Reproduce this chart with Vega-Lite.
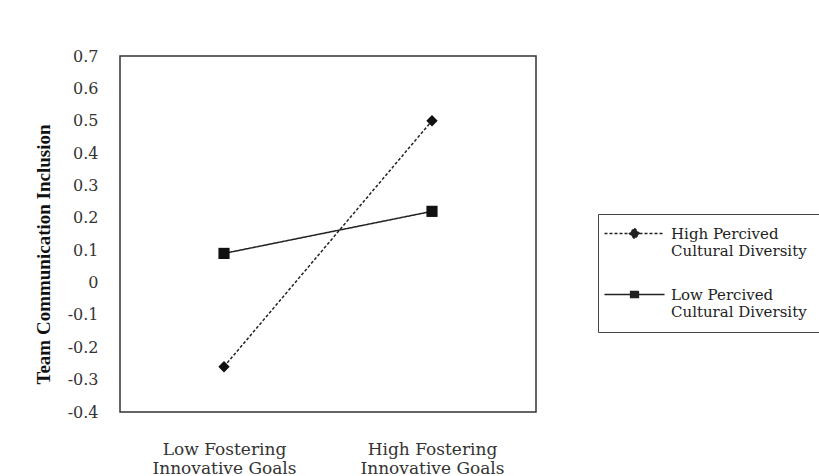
{
  "$schema": "https://vega.github.io/schema/vega-lite/v6.json",
  "autosize": {"type": "none"},
  "padding": {"left": 120, "top": 56, "right": 283, "bottom": 64},
  "width": 416,
  "height": 356,
  "background": "white",
  "config": {"view": {"stroke": "#333", "strokeWidth": 1.5}},
  "data": {
    "values": [
      {"fostering": "Low Fostering Innovative Goals", "group": "High Percived Cultural Diversity", "inclusion": -0.26},
      {"fostering": "High Fostering Innovative Goals", "group": "High Percived Cultural Diversity", "inclusion": 0.50},
      {"fostering": "Low Fostering Innovative Goals", "group": "Low Percived Cultural Diversity", "inclusion": 0.09},
      {"fostering": "High Fostering Innovative Goals", "group": "Low Percived Cultural Diversity", "inclusion": 0.22}
    ]
  },
  "encoding": {
    "x": {
      "field": "fostering",
      "type": "ordinal",
      "sort": ["Low Fostering Innovative Goals", "High Fostering Innovative Goals"],
      "scale": {"type": "point", "padding": 0.5},
      "axis": {
        "title": null,
        "ticks": false,
        "domain": false,
        "grid": false,
        "labelAngle": 0,
        "labelPadding": 29,
        "labelFont": "DejaVu Serif",
        "labelFontSize": 17,
        "labelLineHeight": 19,
        "labelColor": "#333",
        "labelExpr": "[replace(datum.label, ' Innovative Goals', ''), 'Innovative Goals']"
      }
    },
    "y": {
      "field": "inclusion",
      "type": "quantitative",
      "scale": {"domain": [-0.4, 0.7], "nice": false, "zero": false},
      "axis": {
        "values": [-0.4, -0.3, -0.2, -0.1, 0, 0.1, 0.2, 0.3, 0.4, 0.5, 0.6, 0.7],
        "labelExpr": "datum.value == 0 ? '0' : (datum.value < 0 ? '-' + format(-datum.value, '.1f') : format(datum.value, '.1f'))",
        "ticks": false,
        "domain": false,
        "grid": false,
        "labelPadding": 22,
        "labelFont": "DejaVu Serif",
        "labelFontSize": 16,
        "labelColor": "#333",
        "title": "Team Communication Inclusion",
        "titleFont": "Liberation Serif",
        "titleFontSize": 19,
        "titleFontWeight": "bold",
        "titleColor": "#111",
        "titleX": -77,
        "titleY": 198,
        "titleAngle": -90,
        "titleAlign": "center",
        "titleBaseline": "middle"
      }
    }
  },
  "layer": [
    {
      "mark": {"type": "line", "color": "#222", "strokeWidth": 1.5},
      "encoding": {
        "detail": {"field": "group", "type": "nominal"},
        "strokeDash": {"condition": {"test": "datum.group == 'High Percived Cultural Diversity'", "value": [3, 2]}, "value": [1, 0]}
      }
    },
    {
      "mark": {"type": "point", "filled": true, "color": "#111", "opacity": 1},
      "encoding": {
        "shape": {"condition": {"test": "datum.group == 'High Percived Cultural Diversity'", "value": "diamond"}, "value": "square"},
        "size": {"condition": {"test": "datum.group == 'High Percived Cultural Diversity'", "value": 130}, "value": 125}
      }
    },
    {
      "transform": [{"filter": "false"}],
      "mark": {"type": "point", "filled": false, "fill": "#222", "stroke": "#222", "color": "#222", "strokeWidth": 1.3, "opacity": 1, "size": 64},
      "encoding": {
        "shape": {
          "field": "group",
          "type": "nominal",
          "scale": {
            "domain": ["High Percived Cultural Diversity", "Low Percived Cultural Diversity"],
            "range": ["M-7.5,0L7.5,0M0,-1.3L1.3,0L0,1.3L-1.3,0Z", "M-7.5,0L7.5,0M-1,-0.8L1,-0.8L1,0.8L-1,0.8Z"]
          },
          "legend": {
            "title": null,
            "orient": "none",
            "legendX": 478,
            "legendY": 158,
            "strokeColor": "#444",
            "padding": 12,
            "symbolOffset": 17,
            "labelOffset": 29,
            "rowPadding": 28,
            "labelBaseline": "middle",
            "labelFont": "DejaVu Serif",
            "labelFontSize": 15,
            "labelColor": "#222",
            "labelLimit": 300,
            "symbolSize": 64,
            "symbolStrokeWidth": 1.3,
            "labelExpr": "[replace(datum.label, ' Cultural Diversity', ''), 'Cultural Diversity']"
          }
        },
        "strokeDash": {
          "field": "group",
          "type": "nominal",
          "scale": {
            "domain": ["High Percived Cultural Diversity", "Low Percived Cultural Diversity"],
            "range": [[3, 2], [1, 0]]
          },
          "legend": {
            "title": null,
            "orient": "none",
            "legendX": 478,
            "legendY": 158,
            "strokeColor": "#444",
            "padding": 12,
            "symbolOffset": 17,
            "labelOffset": 29,
            "rowPadding": 28,
            "labelBaseline": "middle",
            "labelFont": "DejaVu Serif",
            "labelFontSize": 15,
            "labelColor": "#222",
            "labelLimit": 300,
            "symbolSize": 64,
            "symbolStrokeWidth": 1.3,
            "labelExpr": "[replace(datum.label, ' Cultural Diversity', ''), 'Cultural Diversity']"
          }
        }
      }
    }
  ]
}
